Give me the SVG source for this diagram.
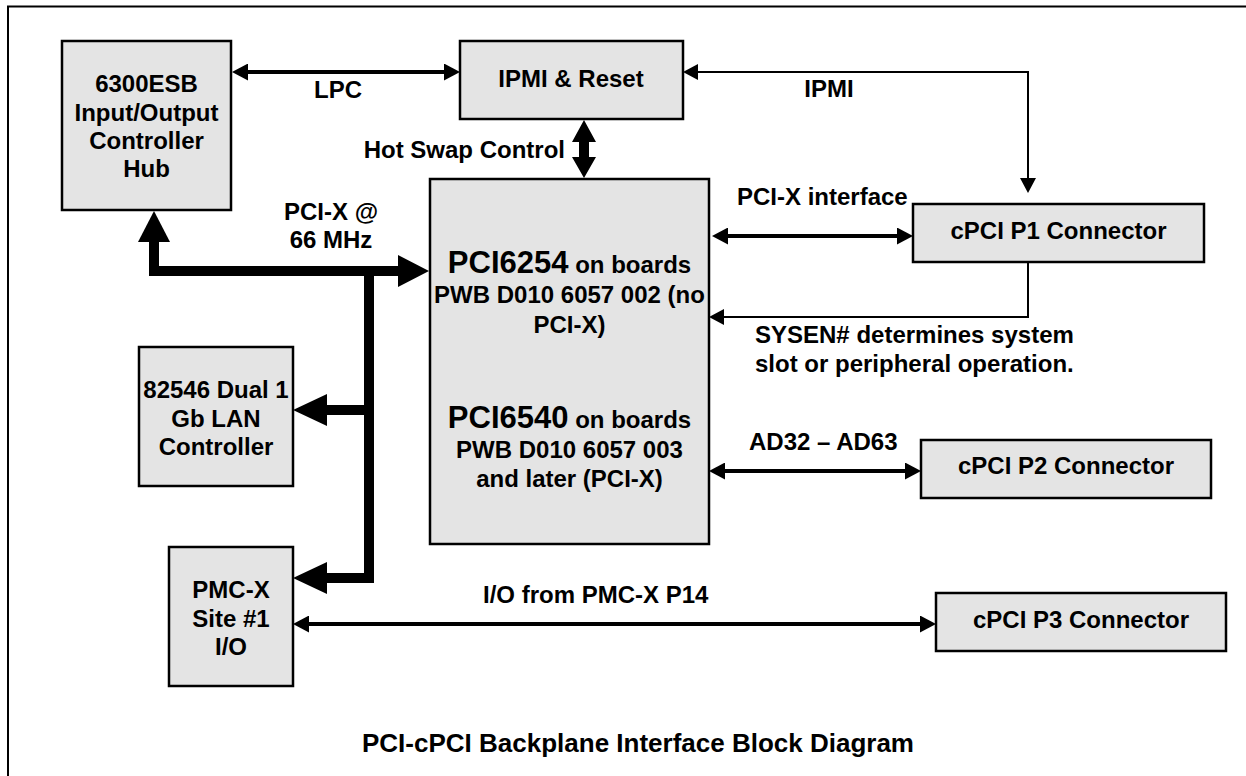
<svg xmlns="http://www.w3.org/2000/svg" width="1246" height="776" viewBox="0 0 1246 776">
<style>
.box{fill:#e4e4e4;stroke:#000;stroke-width:2.5}
text{font-family:"Liberation Sans",Arial,sans-serif;font-weight:bold;font-size:24px;fill:#000}
.c{text-anchor:middle}
.e{text-anchor:end}
.big{font-size:31px}
.title{font-size:26px}
.ln{fill:none;stroke:#000;stroke-width:4}
.thin{fill:none;stroke:#000;stroke-width:2}
.bus{fill:none;stroke:#000;stroke-width:10;stroke-linejoin:miter}
</style>
<defs>
<marker id="ah" markerUnits="userSpaceOnUse" markerWidth="16" markerHeight="17" refX="0" refY="8.5" orient="auto-start-reverse" viewBox="0 0 16 17">
<path d="M0,0 L16,8.5 L0,17 z" fill="#000"/>
</marker>
<marker id="ahs" markerUnits="userSpaceOnUse" markerWidth="15" markerHeight="16" refX="0" refY="8" orient="auto-start-reverse" viewBox="0 0 15 16">
<path d="M0,0 L15,8 L0,16 z" fill="#000"/>
</marker>
</defs>
<rect x="8" y="6.5" width="1260" height="790" fill="#fff" stroke="#000" stroke-width="2"/>

<g id="connectors">
<line class="ln" x1="248" y1="72" x2="444" y2="72" marker-start="url(#ah)" marker-end="url(#ah)"/>
<path class="thin" d="M698,72 L1028,72 L1028,178" marker-start="url(#ahs)" marker-end="url(#ahs)"/>
<polygon points="584,120 596,142 589,142 589,157 596,157 584,178 572,157 579,157 579,142 572,142" fill="#000"/>
<polyline class="bus" points="154,240 154,271 400,271"/>
<polygon points="138,242 154,211 170,242" fill="#000"/>
<polygon points="398,255 429,271 398,287" fill="#000"/>
<polyline class="bus" points="369,266 369,578 325,578"/>
<polygon points="327,562 293,578 327,594" fill="#000"/>
<line class="bus" x1="369" y1="410" x2="325" y2="410"/>
<polygon points="327,394 293,410 327,426" fill="#000"/>
<line class="ln" x1="728" y1="236" x2="897" y2="236" marker-start="url(#ah)" marker-end="url(#ah)"/>
<path class="thin" d="M1028,262 L1028,317 L724,317" marker-end="url(#ahs)"/>
<line class="ln" x1="725" y1="471" x2="905" y2="471" marker-start="url(#ah)" marker-end="url(#ah)"/>
<line class="ln" x1="309" y1="624" x2="920" y2="624" marker-start="url(#ah)" marker-end="url(#ah)"/>
<text class="c" x="338" y="98">LPC</text>
<text class="c" x="829" y="97">IPMI</text>
<text class="e" x="565" y="158">Hot Swap Control</text>
<text class="c" x="331" y="220">PCI-X @</text>
<text class="c" x="331" y="248">66 MHz</text>
<text x="737" y="205">PCI-X interface</text>
<text x="755" y="343">SYSEN# determines system</text>
<text x="755" y="372">slot or peripheral operation.</text>
<text x="749" y="450">AD32 – AD63</text>
<text x="483" y="603">I/O from PMC-X P14</text>
</g>

<g id="hub">
<rect class="box" x="62" y="41" width="169" height="169"/>
<text class="c" x="146.5" y="92">6300ESB</text>
<text class="c" x="146.5" y="121">Input/Output</text>
<text class="c" x="146.5" y="149">Controller</text>
<text class="c" x="146.5" y="177">Hub</text>
</g>

<g id="ipmi">
<rect class="box" x="460" y="41" width="223" height="78"/>
<text class="c" x="571" y="87">IPMI &amp; Reset</text>
</g>

<g id="bridge">
<rect class="box" x="430" y="179" width="279" height="365"/>
<text class="c" x="569.5" y="273"><tspan class="big">PCI6254</tspan> on boards</text>
<text class="c" x="569.5" y="303">PWB D010 6057 002 (no</text>
<text class="c" x="569.5" y="333">PCI-X)</text>
<text class="c" x="569.5" y="428"><tspan class="big">PCI6540</tspan> on boards</text>
<text class="c" x="569.5" y="458">PWB D010 6057 003</text>
<text class="c" x="569.5" y="487">and later (PCI-X)</text>
</g>

<g id="lan">
<rect class="box" x="139" y="347" width="154" height="139"/>
<text class="c" x="216" y="398">82546 Dual 1</text>
<text class="c" x="216" y="427">Gb LAN</text>
<text class="c" x="216" y="455">Controller</text>
</g>

<g id="pmc">
<rect class="box" x="169" y="547" width="124" height="139"/>
<text class="c" x="231" y="598">PMC-X</text>
<text class="c" x="231" y="627">Site #1</text>
<text class="c" x="231" y="655">I/O</text>
</g>

<g id="p1">
<rect class="box" x="913" y="204" width="291" height="58"/>
<text class="c" x="1058.5" y="239">cPCI P1 Connector</text>
</g>

<g id="p2">
<rect class="box" x="921" y="440" width="290" height="58"/>
<text class="c" x="1066" y="474">cPCI P2 Connector</text>
</g>

<g id="p3">
<rect class="box" x="936" y="593" width="290" height="58"/>
<text class="c" x="1081" y="628">cPCI P3 Connector</text>
</g>

<text class="title" x="362" y="752">PCI-cPCI Backplane Interface Block Diagram</text>
</svg>
